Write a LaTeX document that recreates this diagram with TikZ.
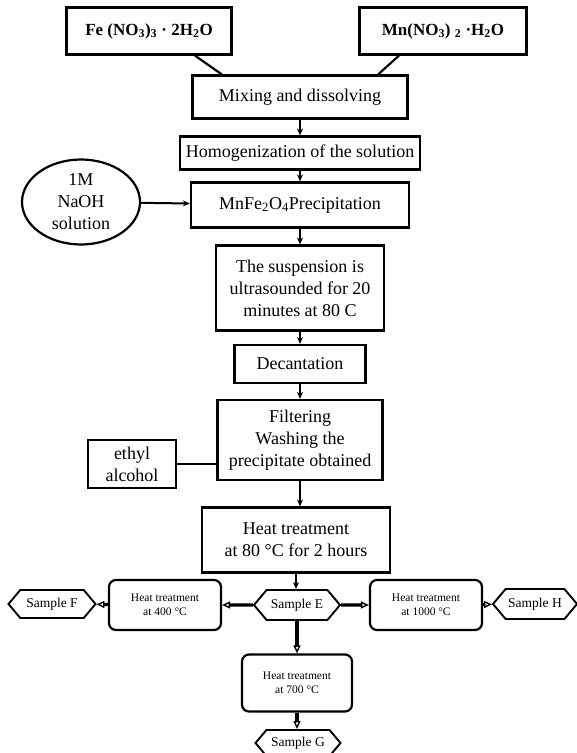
\documentclass[tikz,border=0pt]{standalone}
\usepackage{fontspec}
\setmainfont{Liberation Serif}
\usetikzlibrary{shapes.geometric,shapes.symbols,arrows.meta,calc}

\begin{document}
\begin{tikzpicture}[x=1pt,y=-1pt,
  box/.style={draw, line width=2.2pt, align=center, inner sep=2pt, font=\fontsize{18}{22}\selectfont},
  heatbox/.style={draw, line width=2.2pt, rounded corners=7pt, align=center, minimum width=112pt, minimum height=50pt, font=\fontsize{11.5}{14}\selectfont},
  sample/.style={draw, line width=1.9pt, signal, signal to=east and west, signal pointer angle=100, minimum height=30pt, minimum width=86pt, inner xsep=2pt, font=\fontsize{13.5}{16}\selectfont},
  link/.style={line width=2pt, -{Stealth[length=7pt,width=6pt]}},
  hollow/.style={line width=3.2pt, -{Triangle[open, length=8pt, width=7pt, line width=1.4pt]}}]
 \useasboundingbox (0,0) rectangle (577,753);

\node[box, minimum width=165pt, minimum height=47pt, font=\fontsize{17}{20}\selectfont\bfseries] (fe) at (149,31) {Fe (NO\textsubscript{3})\textsubscript{3} · 2H\textsubscript{2}O};
\node[box, minimum width=167pt, minimum height=47pt, font=\fontsize{17}{20}\selectfont\bfseries] (mn) at (443,31) {Mn(NO\textsubscript{3}) \textsubscript{2} ·H\textsubscript{2}O};
\node[box, minimum width=215pt, minimum height=43pt] (mix) at (300,97) {Mixing and dissolving};
\node[box, minimum width=240pt, minimum height=33pt] (homog) at (300,153) {Homogenization of the solution};
\node[box, ellipse, minimum width=118pt, minimum height=76pt] (naoh) at (81,202) {1M\\NaOH\\solution};
\node[box, minimum width=218pt, minimum height=45pt] (precip) at (300,205) {MnFe\textsubscript{2}O\textsubscript{4}Precipitation};
\node[box, minimum width=168pt, minimum height=85pt] (ultra) at (300,288) {The suspension is\\ultrasounded for 20\\minutes at 80 C};
\node[box, minimum width=131pt, minimum height=38pt] (decant) at (300,364) {Decantation};
\node[box, minimum width=165pt, minimum height=80pt] (filter) at (300,440) {Filtering\\Washing the\\precipitate obtained};
\node[box, minimum width=88pt, minimum height=48pt, inner sep=0pt] (ethyl) at (132,464) {ethyl\\alcohol};
\node[box, minimum width=188pt, minimum height=65pt] (heat80) at (296,540) {Heat treatment\\at 80 °C for 2 hours};

\node[sample] (sampE) at (297,605) {Sample E};
\node[heatbox] (heat400) at (165,605) {Heat treatment\\at 400 °C};
\node[heatbox] (heat1000) at (426,605) {Heat treatment\\at 1000 °C};
\node[heatbox, minimum width=110pt, minimum height=57pt] (heat700) at (297,683) {Heat treatment\\at 700 °C};
\node[sample, minimum width=87pt, minimum height=28pt] (sampF) at (52,604) {Sample F};
\node[sample, minimum width=84pt] (sampH) at (535,604) {Sample H};
\node[sample, minimum width=85pt, minimum height=26pt] (sampG) at (298,743) {Sample G};

\draw[line width=2.2pt] ($(fe.south)!0.55!(fe.south east)$) -- ($(mix.north west)!0.14!(mix.north east)$);
\draw[line width=2.2pt] ($(mn.south)!0.52!(mn.south west)$) -- ($(mix.north east)!0.14!(mix.north west)$);

\foreach \a/\b in {mix/homog, homog/precip, precip/ultra, ultra/decant, decant/filter, filter/heat80, heat80/sampE}
	\draw[link] (\a.south) -- (\a.south |- \b.north);

\draw[link] (naoh) -- (precip);
\draw[line width=2.2pt] (ethyl) -- (ethyl -| filter.west);

\foreach \a/\b in {sampE/heat400, heat400/sampF, sampE/heat1000, heat1000/sampH}
	\draw[hollow] (\a) -- (\b);
\draw[hollow] (sampE.south) -- (sampE.south |- heat700.north);
\draw[hollow] (heat700.south) -- (heat700.south |- sampG.north);

\end{tikzpicture}
\end{document}
